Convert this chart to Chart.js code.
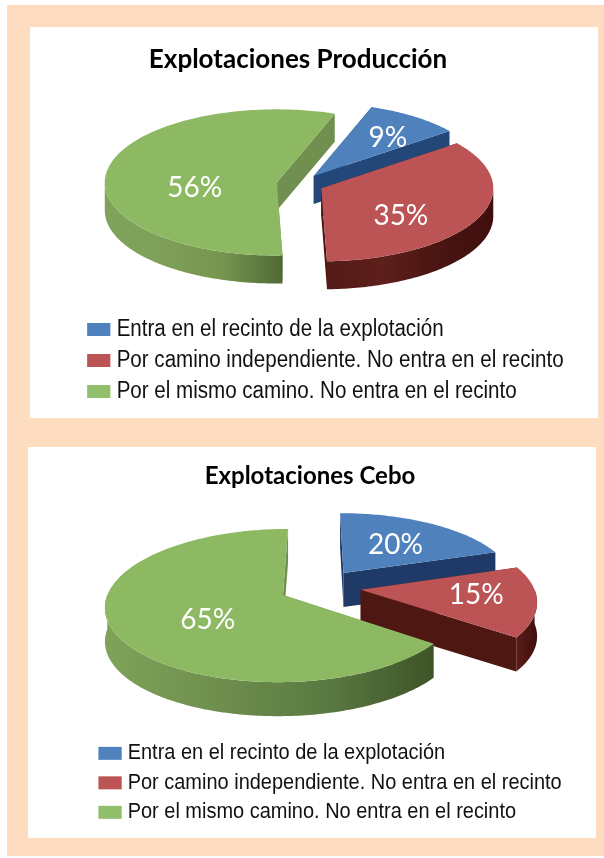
<!DOCTYPE html>
<html><head><meta charset="utf-8">
<script src="https://cdn.jsdelivr.net/npm/chart.js@4"></script>
<style>
html,body{margin:0;padding:0;background:#fff;width:604px;height:858px;overflow:hidden}
#bg{position:absolute;left:7px;top:5px;width:597px;height:851px;background:#FDDCBF}
.panel{position:absolute;background:#fff}
canvas{position:absolute;left:0}
</style></head><body>
<div id="bg"></div>
<div class="panel" style="left:30px;top:27px;width:568px;height:391px"></div>
<div class="panel" style="left:28px;top:447px;width:568px;height:391px"></div>
<canvas id="c1" width="604" height="432" style="top:0"></canvas>
<canvas id="c2" width="604" height="426" style="top:432px"></canvas>
<script>
const categories = ['Entra en el recinto de la explotación','Por camino independiente. No entra en el recinto','Por el mismo camino. No entra en el recinto'];
const produccionValues = [9, 35, 56];
const ceboValues = [20, 15, 65];
const titleProduccion = 'Explotaciones Producción';
const titleCebo = 'Explotaciones Cebo';
const topColors = ['#4F81BD','#BC5456','#8DB962'];
const legendColors = ['#4F81BD','#BC5456','#92BF6C'];

const pie3d = {
  id:'pie3d',
  afterLayout(chart,args,o){
    const T=chart.titleBlock, L=chart.legend, A=chart.chartArea, ctx=chart.ctx;
    T.left=o.titleX-150; T.right=o.titleX+150; T.top=o.titleTop;
    const w=L.right-L.left; L.left=o.legendX; L.right=o.legendX+w; L.top=o.legendTop;
    A.left=o.cx-200; A.right=o.cx+200; A.top=o.cy-200; A.bottom=o.cy+200; A.width=400; A.height=400;
    if(!L._narrowed){
      L._narrowed=true;
      const draw=L.draw;
      L.draw=function(){
        const f=chart.options.plugins.legend.labels.font;
        ctx.save();
        ctx.font=f.size+'px '+f.family;
        const sx=o.legendTextWidth/ctx.measureText(categories[1]).width;
        ctx.translate(this.left,0);ctx.scale(sx,1);ctx.translate(-this.left,0);
        draw.call(this);
        ctx.restore();
      };
    }
  },
  beforeDatasetsDraw(chart,args,o){
    const ctx=chart.ctx, arcs=chart.getDatasetMeta(0).data, {k,p,depth}=o;
    const paint=(pts,fill)=>{ctx.beginPath();pts.forEach((q,i)=>i?ctx.lineTo(q[0],q[1]):ctx.moveTo(q[0],q[1]));ctx.closePath();ctx.fillStyle=fill;ctx.fill();};
    const info=arcs.map(a=>{
      const {x,y,startAngle:s,endAngle:e,outerRadius:r}=a.getProps(['x','y','startAngle','endAngle','outerRadius'],true);
      const h=(s+e)/2, d=(a.options.offset||0)/4;
      const proj=(rad,ang)=>{
        const X=d*Math.cos(h)+rad*Math.cos(ang), Y=d*Math.sin(h)+rad*Math.sin(ang), f=1+p*Y;
        return [x+X*f, y+k*Y*f];
      };
      const arc=[], front=[]; const n=Math.ceil((e-s)*180/Math.PI);
      for(let i=0;i<=n;i++){
        const an=s+(e-s)*i/n, q=proj(r,an);
        arc.push(q);
        if(Math.sin(an)>=0) front.push(q);
      }
      return {apex:proj(0,0),arc,front,h};
    });
    const down=q=>[q[0],q[1]+depth];
    o.order.forEach(i=>{
      const {apex,arc,front}=info[i], sh=o.shades[i];
      const aD=down(apex), a0=arc[0], a1=arc[arc.length-1];
      paint([apex,a0,down(a0),aD],sh.radial);
      paint([apex,a1,down(a1),aD],sh.radial);
      if(front.length>1){
        const xs=front.map(q=>q[0]), x0=Math.min(...xs), x1=Math.max(...xs);
        const g=ctx.createLinearGradient(x0,0,x1,0);
        sh.wall.forEach((c,j)=>g.addColorStop(j/(sh.wall.length-1),c));
        paint(front.concat(front.map(down).reverse()),g);
      }
      paint([apex,...arc],topColors[i]);
    });
    ctx.save();
    ctx.font='28px Lato'; ctx.fillStyle='#fff'; ctx.textAlign='center'; ctx.textBaseline='middle';
    chart.data.datasets[0].data.forEach((v,i)=>{
      const {apex,h}=info[i], [f,da]=o.labels[i], r=arcs[i].outerRadius*f, an=h+da*Math.PI/180;
      const X=r*Math.cos(an), Y=r*Math.sin(an);
      ctx.fillText(v+'%',apex[0]+X,apex[1]+k*Y+2);
    });
    ctx.restore();
    return false;
  }
};

function makeChart(id,values,title,rotation,offset,radius,titleSize,legendSize,rowGap,place){
  new Chart(document.getElementById(id),{
    type:'pie',
    plugins:[pie3d],
    data:{labels:categories,datasets:[{data:values,backgroundColor:legendColors,borderWidth:0,offset:offset}]},
    options:{
      responsive:false,animation:false,rotation:rotation,radius:radius,
      plugins:{
        tooltip:{enabled:false},
        title:{display:true,text:title,color:'#000',padding:0,font:{family:'Lato',size:titleSize,weight:'bold',lineHeight:1.2}},
        legend:{position:'bottom',align:'start',labels:{
          color:'#111',boxWidth:17,boxHeight:4,padding:rowGap,
          font:{family:'"Liberation Sans"',size:legendSize},
          generateLabels(c){
            return Chart.overrides.pie.plugins.legend.labels.generateLabels(c).map((it,i)=>{
              it.fillStyle=legendColors[i];it.strokeStyle=legendColors[i];it.lineWidth=9;return it;});
          }}},
        pie3d:place
      }
    }
  });
}

makeChart('c1',produccionValues,titleProduccion,19.7,94,172,26,23,8,{
  titleX:298,titleTop:44,legendX:84,legendTextWidth:447,legendTop:310,cx:300,cy:184,k:0.425,p:0,depth:28,
  order:[0,2,1],
  labels:[[0.70,2],[0.58,12],[0.48,-15]],
  shades:[
    {radial:'#24477A',wall:['#2A5285','#1F3F6E']},
    {radial:'#521612',wall:['#541A16','#5E1F1B','#4A1512','#3F0F0D']},
    {radial:'#71904F',wall:['#7FA35A','#7FA05A','#76954F','#4F6936']}
  ]
});
makeChart('c2',ceboValues,titleCebo,0,164,173,24,22.3,7.2,{
  titleX:310,titleTop:30,legendX:96,legendTextWidth:434,legendTop:303,cx:320,cy:155,k:0.43,p:0.00081,depth:34,
  order:[0,1,2],
  labels:[[0.50,1],[0.67,-5],[0.53,-8]],
  shades:[
    {radial:'#1F3A66',wall:['#23406E','#1C355E']},
    {radial:'#4F1712',wall:['#5A1C18','#3F0F0D']},
    {radial:'#71904F',wall:['#7FA35A','#6F8F4E','#5B7A42','#3D5427']}
  ]
});
</script></body></html>
